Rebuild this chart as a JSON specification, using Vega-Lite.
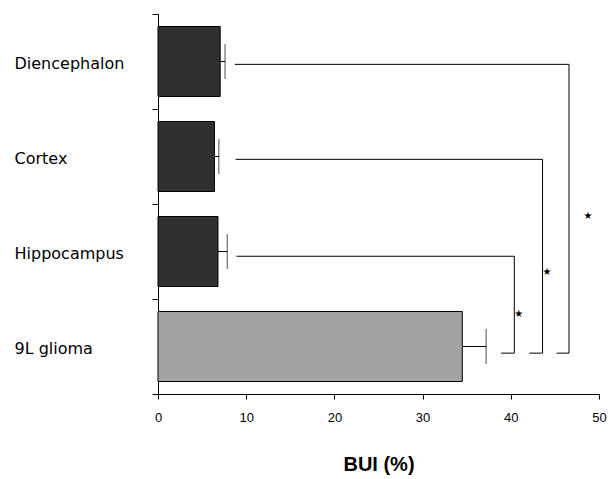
{
  "$schema": "https://vega.github.io/schema/vega-lite/v6.json",
  "width": 441,
  "height": 380,
  "autosize": {"type": "none"},
  "padding": {"left": 158, "top": 14, "right": 15, "bottom": 85},
  "background": "white",
  "config": {"view": {"stroke": null}, "font": "Liberation Sans"},
  "datasets": {
    "bars": [
      {"region": "Diencephalon", "pos": 3.5, "value": 7.05, "upper": 7.6, "kind": "brain"},
      {"region": "Cortex", "pos": 2.5, "value": 6.4, "upper": 6.9, "kind": "brain"},
      {"region": "Hippocampus", "pos": 1.5, "value": 6.8, "upper": 7.85, "kind": "brain"},
      {"region": "9L glioma", "pos": 0.5, "value": 34.5, "upper": 37.2, "kind": "tumor"}
    ],
    "segments": [
      {"pair": "Hippocampus", "xa": 8.9, "xb": 40.4, "ya": 1.45, "yb": 1.45},
      {"pair": "Hippocampus", "xa": 40.4, "xb": 40.4, "ya": 1.45, "yb": 0.43},
      {"pair": "Hippocampus", "xa": 38.9, "xb": 40.4, "ya": 0.43, "yb": 0.43},
      {"pair": "Cortex", "xa": 8.8, "xb": 43.6, "ya": 2.47, "yb": 2.47},
      {"pair": "Cortex", "xa": 43.6, "xb": 43.6, "ya": 2.47, "yb": 0.43},
      {"pair": "Cortex", "xa": 42.1, "xb": 43.6, "ya": 0.43, "yb": 0.43},
      {"pair": "Diencephalon", "xa": 8.7, "xb": 46.6, "ya": 3.47, "yb": 3.47},
      {"pair": "Diencephalon", "xa": 46.6, "xb": 46.6, "ya": 3.47, "yb": 0.43},
      {"pair": "Diencephalon", "xa": 45.2, "xb": 46.6, "ya": 0.43, "yb": 0.43}
    ],
    "stars": [
      {"pair": "Hippocampus", "sx": 40.9, "sy": 0.84, "mark": "★"},
      {"pair": "Cortex", "sx": 44.1, "sy": 1.28, "mark": "★"},
      {"pair": "Diencephalon", "sx": 48.75, "sy": 1.87, "mark": "★"}
    ]
  },
  "layer": [
    {
      "data": {"name": "bars"},
      "mark": {"type": "bar", "orient": "horizontal", "size": 70, "stroke": "black", "strokeWidth": 1},
      "encoding": {
        "y": {
          "field": "pos", "type": "quantitative",
          "scale": {"domain": [0, 4], "nice": false, "zero": false, "padding": 0},
          "axis": {
            "values": [0, 1, 2, 3, 4],
            "title": null, "grid": false,
            "domainColor": "black", "tickColor": "black", "tickSize": 6,
            "labelExpr": "datum.value == 4 ? 'Diencephalon' : datum.value == 3 ? 'Cortex' : datum.value == 2 ? 'Hippocampus' : datum.value == 1 ? '9L glioma' : ''",
            "labelOffset": 49,
            "labelAlign": "left", "labelBaseline": "middle", "labelPadding": 138,
            "labelFont": "DejaVu Sans", "labelFontSize": 16, "labelColor": "black",
            "labelOverlap": false, "labelBound": false, "labelFlush": false
          }
        },
        "x": {
          "field": "value", "type": "quantitative", "stack": null,
          "scale": {"domain": [0, 50], "nice": false, "padding": 0},
          "axis": {
            "orient": "bottom",
            "values": [0, 10, 20, 30, 40, 50],
            "title": "BUI (%)", "titleFont": "Liberation Sans", "titleFontSize": 20,
            "titleFontWeight": "bold", "titleColor": "black", "titlePadding": 30,
            "labelFont": "Liberation Sans", "labelFontSize": 13, "labelColor": "black",
            "labelPadding": 12, "tickSize": 5, "tickColor": "black", "domainColor": "black",
            "grid": false, "labelFlush": false
          }
        },
        "fill": {
          "field": "kind", "type": "nominal",
          "scale": {"domain": ["brain", "tumor"], "range": ["#303030", "#a3a3a3"]},
          "legend": null
        }
      }
    },
    {
      "data": {"name": "bars"},
      "mark": {"type": "rule", "color": "black", "strokeWidth": 1},
      "encoding": {
        "y": {"field": "pos", "type": "quantitative"},
        "x": {"field": "value", "type": "quantitative"},
        "x2": {"field": "upper"}
      }
    },
    {
      "data": {"name": "bars"},
      "mark": {"type": "tick", "orient": "vertical", "size": 35, "thickness": 1, "color": "black"},
      "encoding": {
        "y": {"field": "pos", "type": "quantitative"},
        "x": {"field": "upper", "type": "quantitative"}
      }
    },
    {
      "data": {"name": "segments"},
      "mark": {"type": "rule", "color": "black", "strokeWidth": 1},
      "encoding": {
        "x": {"field": "xa", "type": "quantitative"},
        "x2": {"field": "xb"},
        "y": {"field": "ya", "type": "quantitative"},
        "y2": {"field": "yb"}
      }
    },
    {
      "data": {"name": "stars"},
      "mark": {"type": "text", "font": "DejaVu Sans", "fontSize": 10, "color": "black", "align": "center", "baseline": "middle"},
      "encoding": {
        "x": {"field": "sx", "type": "quantitative"},
        "y": {"field": "sy", "type": "quantitative"},
        "text": {"field": "mark"}
      }
    }
  ]
}
